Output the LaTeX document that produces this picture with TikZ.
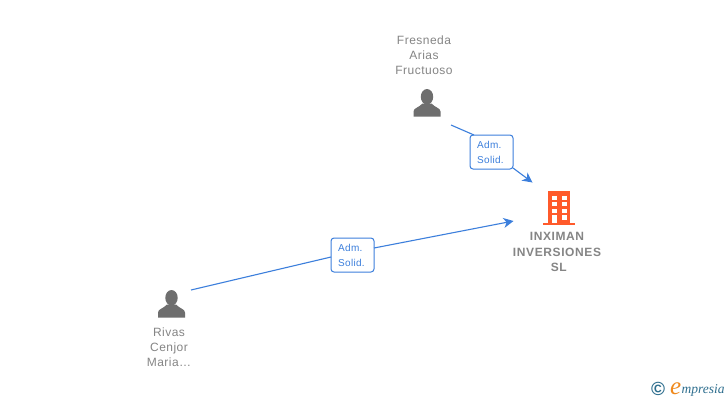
\documentclass[tikz,border=0pt]{standalone}
\usepackage{fontspec}
\setmainfont{Liberation Sans}
\newfontfamily\lblfont[LetterSpace=4]{Liberation Sans}
\newfontfamily\rolefont[LetterSpace=3]{Liberation Sans}
\newfontfamily\boldlbl[LetterSpace=5]{Liberation Sans Bold}
\newfontfamily\logofont{Liberation Serif}
\usetikzlibrary{arrows.meta}
\definecolor{linkblue}{HTML}{3C7FDC}
\definecolor{iconGray}{HTML}{6E6E6E}
\definecolor{textGray}{HTML}{858585}
\definecolor{bldOrange}{HTML}{FF5A2B}
\definecolor{logoBlue}{HTML}{2F6F8F}
\definecolor{logoOrange}{HTML}{F08A1D}
\tikzset{
  x=1pt,y=-1pt,
  nametext/.style={align=center,text=textGray,font=\lblfont\fontsize{12}{15}\selectfont,inner sep=0pt},
  cotext/.style={align=center,text=textGray,font=\boldlbl\fontsize{12}{15.5}\selectfont,inner sep=0pt},
  rolebox/.style={draw=linkblue,line width=1pt,fill=white,rounded corners=3pt,minimum width=43pt,minimum height=34pt,inner sep=0pt},
  roletext/.style={anchor=west,inner sep=0pt,align=left,text=linkblue,font=\rolefont\fontsize{10}{15}\selectfont},
  link/.style={draw=linkblue,line width=1.1pt},
  arrowlink/.style={link,-{Stealth[length=10pt,width=10pt,inset=3pt]}},
  icon/.style={minimum width=28pt,minimum height=28pt,inner sep=0pt},
  persongl/.style={fill=iconGray,draw=none}
}
\newcommand{\persondraw}[2]{%
  \fill[persongl] (#1,#2-6.2) ellipse (6.2 and 7.8);
  \fill[persongl] (#1-13.5,#2+13.5) -- (#1-13.5,#2+8.5) .. controls (#1-13.5,#2+5) and (#1-8,#2+4.5) .. (#1-4.5,#2+0.5)
    -- (#1+4.5,#2+0.5) .. controls (#1+8,#2+4.5) and (#1+13.5,#2+5) .. (#1+13.5,#2+8.5) -- (#1+13.5,#2+13.5) -- cycle;
}
\begin{document}
\begin{tikzpicture}
\useasboundingbox (0,0) rectangle (728,400);
\fill[white] (0,0) rectangle (728,400);

% people
\node[icon] (fresneda) at (427,103) {};
\persondraw{427}{103}
\node[icon] (rivas) at (171.5,304) {};
\persondraw{171.5}{304}
\node[nametext] (fresnedaName) at (424,55) {Fresneda\\Arias\\Fructuoso};
\node[nametext] (rivasName) at (169,347) {Rivas\\Cenjor\\Maria\ldots};

% company
\node[icon,minimum width=32pt,minimum height=34pt] (company) at (559,208) {};
\fill[bldOrange] (548,191) rectangle (570,223);
\fill[bldOrange] (543,223) rectangle (575,225);
\foreach \wy in {195.5,202,208.5}{
  \fill[white] (551.5,\wy) rectangle (556.5,\wy+4);
  \fill[white] (561.5,\wy) rectangle (566.5,\wy+4);
}
\fill[white] (552,215) rectangle (556.5,223);
\fill[white] (561.5,215) rectangle (566.5,219.5);
\node[cotext] (companyName) at (557,252) {INXIMAN\\INVERSIONES\\\hspace*{3.5pt}SL};

% connector ends
\coordinate (startA) at (451,125);
\coordinate (endA) at (532.5,182.5);
\coordinate (startB) at (191,290);
\coordinate (endB) at (513.5,221);
\coordinate (inA) at (474,135);
\coordinate (outA) at (513,168);
\coordinate (inB) at (331,257);
\coordinate (outB) at (374,248);

% role labels
\node[rolebox] (roleA) at (491.5,152) {};
\node[roletext] (roleAtext) at (477,152.2) {Adm.\\Solid.};
\node[rolebox] (roleB) at (352.5,255) {};
\node[roletext] (roleBtext) at (338,255.2) {Adm.\\Solid.};

% connectors
\draw[link] (startA) -- (inA);
\draw[arrowlink] (outA) -- (endA);
\draw[link] (startB) -- (inB);
\draw[arrowlink] (outB) -- (endB);

% logo
\node[inner sep=0pt,text=logoBlue,font=\bfseries\fontsize{19}{19}\selectfont] (copy) at (658,389) {©};
\node[inner sep=0pt,anchor=base west,text=logoOrange,font=\logofont\itshape\fontsize{25}{25}\selectfont] (logoE) at (670,394.5) {e};
\node[inner sep=0pt,anchor=base west,text=logoBlue,font=\logofont\itshape\fontsize{13.5}{14}\selectfont] (logoRest) at (681.5,393.5) {mpresia};
\end{tikzpicture}
\end{document}
